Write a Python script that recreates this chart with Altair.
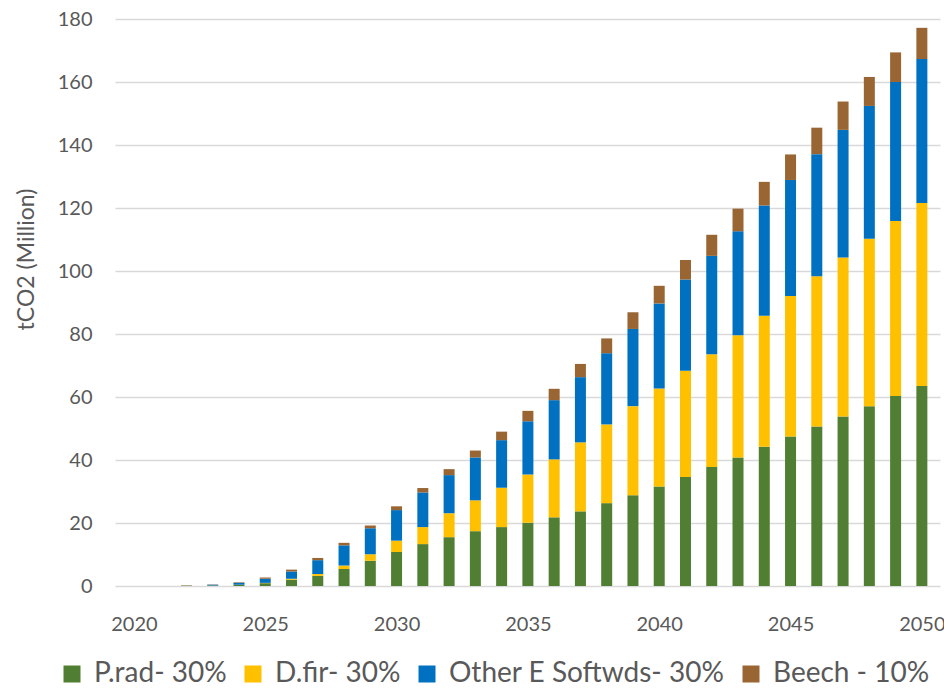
import altair as alt
import pandas as pd

years = list(range(2020, 2051))
series_names = ["P.rad- 30%", "D.fir- 30%", "Other E Softwds- 30%", "Beech - 10%"]
colors = ["#507E32", "#FFC000", "#0070C0", "#996633"]

p_rad = [0, 0, 0.05, 0.15, 0.35, 0.9, 2.0, 3.2, 5.4, 8.0, 10.8, 13.3, 15.5, 17.4, 18.7, 20.1,
         21.8, 23.7, 26.3, 28.8, 31.6, 34.6, 37.8, 40.8, 44.2, 47.5, 50.6, 53.8, 57.1, 60.3, 63.5]
d_fir = [0, 0, 0.05, 0.02, 0.05, 0.1, 0.3, 0.6, 1.1, 2.1, 3.6, 5.4, 7.6, 9.8, 12.5, 15.3,
         18.4, 21.9, 25.0, 28.3, 31.1, 33.7, 35.8, 38.8, 41.6, 44.6, 47.7, 50.5, 53.1, 55.6, 58.1]
other_e = [0, 0, 0.05, 0.25, 0.65, 1.3, 2.3, 4.4, 6.4, 8.2, 9.7, 11.0, 12.1, 13.6, 15.1, 16.9,
           18.8, 20.7, 22.6, 24.5, 27.0, 29.0, 31.2, 33.0, 35.0, 36.8, 38.8, 40.5, 42.2, 44.1, 45.7]
beech = [0, 0, 0.1, 0.08, 0.15, 0.4, 0.6, 0.7, 0.8, 0.9, 1.2, 1.4, 1.9, 2.2, 2.7, 3.3,
         3.6, 4.2, 4.7, 5.3, 5.6, 6.2, 6.7, 7.2, 7.5, 8.1, 8.4, 9.0, 9.2, 9.4, 9.9]

x_ticks = [2020, 2025, 2030, 2035, 2040, 2045, 2050]
y_ticks = list(range(0, 181, 20))

rows = []
for i, (name, vals) in enumerate(zip(series_names, [p_rad, d_fir, other_e, beech])):
    for yr, v in zip(years, vals):
        rows.append({"year": yr, "series": name, "value": v, "order": i})
df = pd.DataFrame(rows)

text_color = "#595959"

chart = alt.Chart(df).mark_bar(size=11).encode(
    x=alt.X("year:Q",
            scale=alt.Scale(domain=[2019.47, 2050.5], nice=False, zero=False),
            axis=alt.Axis(values=x_ticks, format="d", title=None, grid=False, domain=False,
                          ticks=False, tickSize=0, labelPadding=28, labelFontSize=20,
                          labelColor=text_color)),
    y=alt.Y("value:Q", stack="zero",
            scale=alt.Scale(domain=[0, 180], nice=False),
            axis=alt.Axis(values=y_ticks, title="tCO2 (Million)", domain=False, ticks=False,
                          tickSize=0, labelPadding=23, labelFontSize=20, labelColor=text_color,
                          gridColor="#D9D9D9", gridWidth=1.3,
                          titleFontSize=23, titleFontWeight="normal", titleColor=text_color,
                          titleX=-82, titleY=240, titleAngle=270, titleBaseline="alphabetic",
                          titleAlign="center")),
    color=alt.Color("series:N",
                    scale=alt.Scale(domain=series_names, range=colors),
                    legend=alt.Legend(title=None, orient="none", direction="horizontal",
                                      legendX=-57, legendY=641, padding=0,
                                      symbolType="square", symbolSize=289, symbolStrokeWidth=0,
                                      symbolOpacity=1, labelLimit=0,
                                      labelFontSize=28, labelColor=text_color,
                                      columnPadding=12, labelOffset=8)),
    order=alt.Order("order:Q"),
).properties(
    width=825, height=567,
    autosize=alt.AutoSizeParams(type="none"),
    padding={"left": 107, "top": 11, "right": 4, "bottom": 100},
).configure(font="Lato").configure_view(stroke=None)

chart.save("out.html", embed_options={"renderer": "svg", "actions": False})
